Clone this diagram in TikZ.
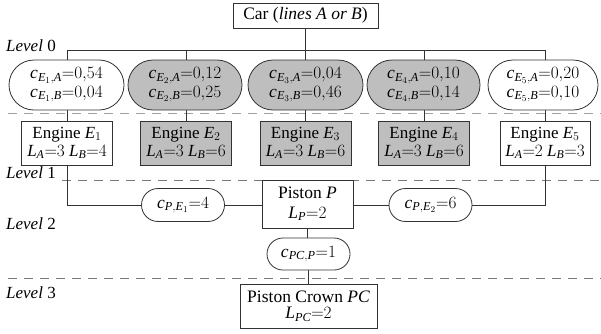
\documentclass[tikz,border=0pt]{standalone}
\usepackage{fontspec}
\setmainfont{Liberation Serif}
\usetikzlibrary{backgrounds,shapes.misc}
\definecolor{boxgray}{RGB}{190,190,190}
\definecolor{dashgray}{RGB}{120,120,120}
\definecolor{dashlight}{RGB}{160,160,160}
\newcommand\mi[1]{\mathit{#1}}
\begin{document}
\begin{tikzpicture}[x=1pt,y=-1pt,
  every node/.style={font=\fontsize{17.5}{16.5}\selectfont, inner sep=0pt, align=center},
  ln/.style={line width=0.8pt, draw=black!80},
  box/.style={draw=black!80, line width=0.8pt, fill=white, rectangle},
  eng/.style={box, minimum width=91pt, minimum height=44pt, font=\fontsize{17}{18}\selectfont},
  bigbub/.style={draw=black!80, line width=0.8pt, fill=white, rounded rectangle, minimum height=50pt, font=\fontsize{17.5}{18.5}\selectfont},
  smallbub/.style={draw=black!80, line width=0.8pt, fill=white, rounded rectangle, minimum height=33pt, minimum width=83pt},
  shaded/.style={fill=boxgray},
  lvl/.style={line width=1pt, draw=dashgray, dash pattern=on 9pt off 7pt},
  lvllight/.style={line width=1pt, draw=dashlight, dash pattern=on 9pt off 7pt},
  lbl/.style={anchor=west, font=\fontsize{17}{17}\selectfont}]
\path[use as bounding box] (0,0) rectangle (601,333);

% top
\node[box, minimum width=145pt, minimum height=25pt] (car) at (305.5,15.5) {Car (\textit{lines A or B})};
\coordinate (bus) at (305.5,50);

% level labels
\node[lbl] (l0) at (6,46) {\textit{Level} 0};
\node[lbl] (l1) at (6,173) {\textit{Level} 1};
\node[lbl] (l2) at (6,224) {\textit{Level} 2};
\node[lbl] (l3) at (6,293) {\textit{Level} 3};

% bubbles level 0
\node[bigbub, minimum width=115pt] (b1) at (66.5,85) {$\mi{c}_{\mi{E}_1,\mi{A}}{=}0{,}54$\\$\mi{c}_{\mi{E}_1,\mi{B}}{=}0{,}04$};
\node[bigbub, shaded, minimum width=114pt] (b2) at (185,85) {$\mi{c}_{\mi{E}_2,\mi{A}}{=}0{,}12$\\$\mi{c}_{\mi{E}_2,\mi{B}}{=}0{,}25$};
\node[bigbub, shaded, minimum width=115pt] (b3) at (305.5,85) {$\mi{c}_{\mi{E}_3,\mi{A}}{=}0{,}04$\\$\mi{c}_{\mi{E}_3,\mi{B}}{=}0{,}46$};
\node[bigbub, shaded, minimum width=113pt] (b4) at (423.5,85) {$\mi{c}_{\mi{E}_4,\mi{A}}{=}0{,}10$\\$\mi{c}_{\mi{E}_4,\mi{B}}{=}0{,}14$};
\node[bigbub, minimum width=110pt] (b5) at (543,85) {$\mi{c}_{\mi{E}_5,\mi{A}}{=}0{,}20$\\$\mi{c}_{\mi{E}_5,\mi{B}}{=}0{,}10$};

% engines
\node[eng] (e1) at (67,143) {Engine $\mi{E}_1$\\$\mi{L}_{\mi{A}}{=}3$ $\mi{L}_{\mi{B}}{=}4$};
\node[eng, shaded] (e2) at (186,143) {Engine $\mi{E}_2$\\$\mi{L}_{\mi{A}}{=}3$ $\mi{L}_{\mi{B}}{=}6$};
\node[eng, shaded] (e3) at (305.5,143) {Engine $\mi{E}_3$\\$\mi{L}_{\mi{A}}{=}3$ $\mi{L}_{\mi{B}}{=}6$};
\node[eng, shaded] (e4) at (424,143) {Engine $\mi{E}_4$\\$\mi{L}_{\mi{A}}{=}3$ $\mi{L}_{\mi{B}}{=}6$};
\node[eng, minimum width=90pt] (e5) at (545,143) {Engine $\mi{E}_5$\\$\mi{L}_{\mi{A}}{=}2$ $\mi{L}_{\mi{B}}{=}3$};

% piston level
\node[box, minimum width=91pt, minimum height=48pt] (p) at (307.5,204) {Piston $\mi{P}$\\[3pt]$\mi{L}_{\mi{P}}{=}2$};
\node[smallbub] (cp1) at (183,205) {$\mi{c}_{\mi{P},\mi{E}_1}{=}4$};
\node[smallbub] (cp2) at (430.5,205) {$\mi{c}_{\mi{P},\mi{E}_2}{=}6$};
\node[smallbub, minimum height=32pt] (cpc) at (308.5,254) {$\mi{c}_{\mi{PC},\mi{P}}{=}1$};
\node[box, minimum width=137pt, minimum height=44pt] (pc) at (308.5,306) {Piston Crown $\mi{PC}$\\$\mi{L}_{\mi{PC}}{=}2$};

% dashed level separators
\coordinate (d0a) at (8,113);  \coordinate (d0b) at (601,113);
\coordinate (d1a) at (62,180); \coordinate (d1b) at (601,180);
\coordinate (d2a) at (8,278);  \coordinate (d2b) at (601,278);

\begin{scope}[on background layer]
  \draw[lvllight] (d0a) -- (d0b);
  \draw[lvl] (d1a) -- (d1b);
  \draw[lvl] (d2a) -- (d2b);
  \draw[ln] (car.south) -- (car.south |- bus);
  \draw[ln] (e1.north |- bus) -- (e5.north |- bus);
  \foreach \i in {1,...,5} { \draw[ln] (e\i.north |- bus) -- (e\i.north); }
  \draw[ln] (e1.south) |- (cp1.west);
  \draw[ln] (cp1.east) -- (p.west |- cp1.east);
  \draw[ln] (p.east |- cp2.west) -- (cp2.west);
  \draw[ln] (cp2.east) -| (e5.south);
  \draw[ln] (p.south) -- (p.south |- cpc.north);
  \draw[ln] (cpc.south) -- (cpc.south |- pc.north);
\end{scope}
\end{tikzpicture}
\end{document}
